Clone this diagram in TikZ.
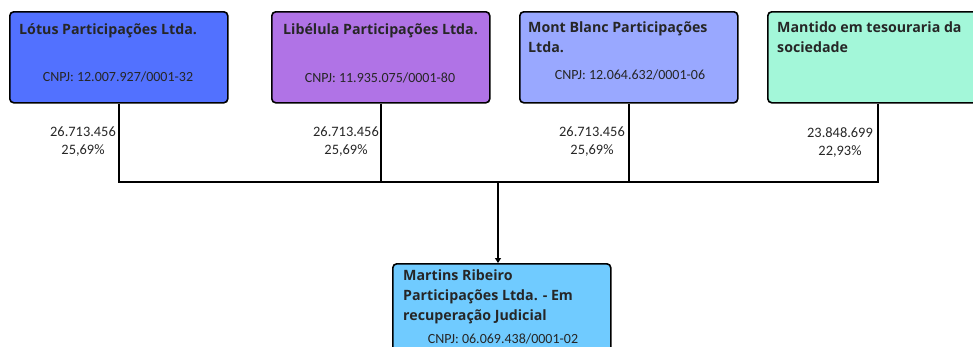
\documentclass[tikz,border=0pt]{standalone}
\usepackage{fontspec}
\setmainfont{Carlito}
\newfontfamily\headfont{Open Sans}
\usetikzlibrary{arrows.meta}
\definecolor{lotusblue}{HTML}{5271FF}
\definecolor{libelulapurple}{HTML}{B073E6}
\definecolor{montblanc}{HTML}{99A8FF}
\definecolor{tesouraria}{HTML}{A3F7D9}
\definecolor{martinsblue}{HTML}{70CBFF}

\begin{document}
\begin{tikzpicture}[x=1pt,y=-1pt,
  company/.style={draw=black,line width=1.6pt,rounded corners=4pt,
    minimum width=218pt,minimum height=91pt,anchor=north west,inner sep=0pt},
  title/.style={font=\headfont\bfseries\fontsize{14.2}{20}\selectfont,
    align=left,anchor=north west,inner sep=0pt,text=black!85},
  cnpj/.style={font=\fontsize{14}{16}\selectfont,inner sep=0pt,text=black!85},
  share/.style={font=\fontsize{14.4}{18}\selectfont,align=center,inner sep=0pt,text=black!85},
  link/.style={line width=1.6pt}]
  \useasboundingbox (0,0) rectangle (973,346);
  \node[company,fill=lotusblue] (lotus) at (9,11) {};
  \node[company,fill=libelulapurple] (libelula) at (271,11) {};
  \node[company,fill=montblanc] (montblanc) at (519,11) {};
  \node[company,fill=tesouraria,minimum width=220pt] (tesouro) at (767,11) {};
  \node[company,fill=martinsblue] (martins) at (392,263) {};
  \node[title] (lotustitle) at (19,23) {Lótus Participações Ltda.};
  \node[title] (libelulatitle) at (283,23) {Libélula Participações Ltda.};
  \node[title] (montblanctitle) at (528,22) {Mont Blanc Participações\\Ltda.};
  \node[title] (tesourotitle) at (777,22) {Mantido em tesouraria da\\sociedade};
  \node[title] (martinstitle) at (403,270) {Martins Ribeiro\\Participações Ltda. - Em\\recuperação Judicial};
  \node[cnpj] (lotuscnpj) at (118,77) {CNPJ: 12.007.927/0001-32};
  \node[cnpj] (libelulacnpj) at (380,78) {CNPJ: 11.935.075/0001-80};
  \node[cnpj] (montblanccnpj) at (630,75) {CNPJ: 12.064.632/0001-06};
  \node[cnpj] (martinscnpj) at (503,339) {CNPJ: 06.069.438/0001-02};
  \node[share] (lotusshare) at (83,142) {26.713.456\\25,69\%};
  \node[share] (libelulashare) at (346,142) {26.713.456\\25,69\%};
  \node[share] (montblancshare) at (592,142) {26.713.456\\25,69\%};
  \node[share] (tesouroshare) at (840,142) {23.848.699\\22,93\%};
  \coordinate (bus) at (498,182);
  \draw[link] (lotus.south) |- (bus);
  \draw[link] (tesouro.south) |- (bus);
  \draw[link] (libelula.south) -- (libelula.south |- bus);
  \draw[link] (montblanc.south) -- (montblanc.south |- bus);
  \draw[link,-{Triangle[width=6pt,length=5pt]}] (bus) -- (bus |- martins.north);
\end{tikzpicture}
\end{document}
